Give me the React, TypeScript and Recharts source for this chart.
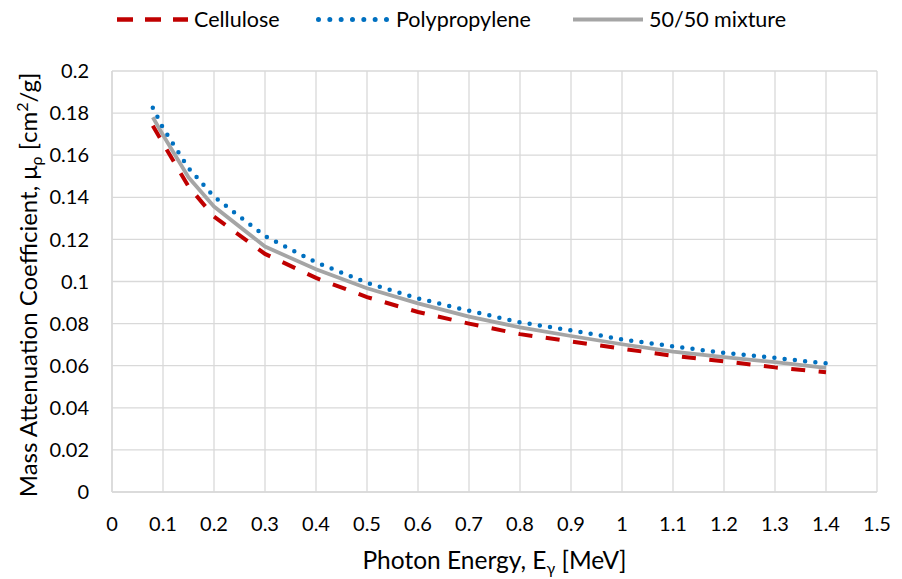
import React from "react";
import { LineChart, Line, XAxis, YAxis, CartesianGrid } from "recharts";

const energies = [0.08, 0.1, 0.15, 0.2, 0.3, 0.4, 0.5, 0.6, 0.7, 0.8, 0.9, 1.0, 1.1, 1.2, 1.3, 1.4];
const cellulose = [0.174, 0.1656, 0.1452, 0.1308, 0.1131, 0.1017, 0.0926, 0.0855, 0.08, 0.075, 0.0715, 0.0681, 0.0647, 0.0621, 0.0592, 0.0569];
const polypropylene = [0.1826, 0.1729, 0.1539, 0.1403, 0.1216, 0.1091, 0.0994, 0.092, 0.0861, 0.0806, 0.0768, 0.0725, 0.0692, 0.0661, 0.0637, 0.0611];
const mixture = [0.178, 0.1696, 0.1495, 0.1356, 0.1166, 0.1058, 0.0968, 0.0896, 0.0833, 0.0782, 0.0741, 0.0702, 0.0667, 0.0641, 0.0617, 0.059];

const xTicks = [0, 0.1, 0.2, 0.3, 0.4, 0.5, 0.6, 0.7, 0.8, 0.9, 1, 1.1, 1.2, 1.3, 1.4, 1.5];
const yTicks = [0, 0.02, 0.04, 0.06, 0.08, 0.1, 0.12, 0.14, 0.16, 0.18, 0.2];

const seriesNames = ["Cellulose", "Polypropylene", "50/50 mixture"];

const data = energies.map((e, i) => ({
  e,
  cellulose: cellulose[i],
  polypropylene: polypropylene[i],
  mixture: mixture[i],
}));

const FONT = "Lato, 'Liberation Sans', sans-serif";
const RED = "#C00000";
const BLUE = "#0070C0";
const GRAY = "#A5A5A5";

export default function App() {
  return (
    <div style={{ position: "absolute", left: 0, top: 0, width: 902, height: 579, background: "#fff" }}>
      <LineChart
        width={902}
        height={579}
        data={data}
        margin={{ top: 71, right: 25, bottom: 0, left: 0 }}
      >
        <CartesianGrid stroke="#d9d9d9" strokeWidth={1.3} />
        <XAxis
          dataKey="e"
          type="number"
          domain={[0, 1.5]}
          ticks={xTicks}
          height={87}
          tickSize={0}
          tickMargin={25}
          axisLine={{ stroke: "#d9d9d9", strokeWidth: 1.5 }}
          tick={{ fill: "#000", fontSize: 20, fontFamily: FONT }}
          tickFormatter={(v: number) => String(Math.round(v * 10) / 10)}
        />
        <YAxis
          type="number"
          domain={[0, 0.2]}
          ticks={yTicks}
          width={112}
          tickSize={0}
          tickMargin={23}
          axisLine={{ stroke: "#d9d9d9", strokeWidth: 1.5 }}
          tick={{ fill: "#000", fontSize: 20, fontFamily: FONT }}
          tickFormatter={(v: number) => String(Math.round(v * 100) / 100)}
        />
        <Line
          dataKey="mixture"
          type="linear"
          stroke={GRAY}
          strokeWidth={3.75}
          dot={false}
          isAnimationActive={false}
        />
        <Line
          dataKey="cellulose"
          type="linear"
          stroke={RED}
          strokeWidth={4}
          strokeDasharray="14 13.5"
          dot={false}
          isAnimationActive={false}
        />
        <Line
          dataKey="polypropylene"
          type="linear"
          stroke={BLUE}
          strokeWidth={4.5}
          strokeDasharray="0 10.3"
          strokeLinecap="round"
          dot={false}
          isAnimationActive={false}
        />
      </LineChart>
      <svg
        width={902}
        height={579}
        style={{ position: "absolute", left: 0, top: 0, pointerEvents: "none" }}
        fontFamily={FONT}
      >
        {/* legend */}
        <line x1={117} y1={19.5} x2={188} y2={19.5} stroke={RED} strokeWidth={4.5} strokeDasharray="16 12" />
        <text x={194} y={27} fontSize={21.5} fill="#000">{seriesNames[0]}</text>
        <line x1={318.5} y1={19.5} x2={386.5} y2={19.5} stroke={BLUE} strokeWidth={5} strokeDasharray="0 11.33" strokeLinecap="round" />
        <text x={396} y={27} fontSize={21.5} fill="#000">{seriesNames[1]}</text>
        <line x1={573} y1={19.5} x2={643} y2={19.5} stroke={GRAY} strokeWidth={4} />
        <text x={649} y={27} fontSize={21.5} fill="#000">{seriesNames[2]}</text>
        {/* x axis title */}
        <text x={494.5} y={569} fontSize={24.5} textAnchor="middle" fill="#000">
          Photon Energy, E<tspan fontSize={16} dy={5}>γ</tspan>
          <tspan dy={-5}> [MeV]</tspan>
        </text>
        {/* y axis title */}
        <text
          transform="translate(37,285) rotate(-90)"
          fontSize={24}
          textAnchor="middle"
          fill="#000"
        >
          Mass Attenuation Coefficient, μ<tspan fontSize={16} dy={5}>ρ</tspan>
          <tspan dy={-5}> [cm</tspan>
          <tspan fontSize={16} dy={-9}>2</tspan>
          <tspan dy={9}>/g]</tspan>
        </text>
      </svg>
    </div>
  );
}
